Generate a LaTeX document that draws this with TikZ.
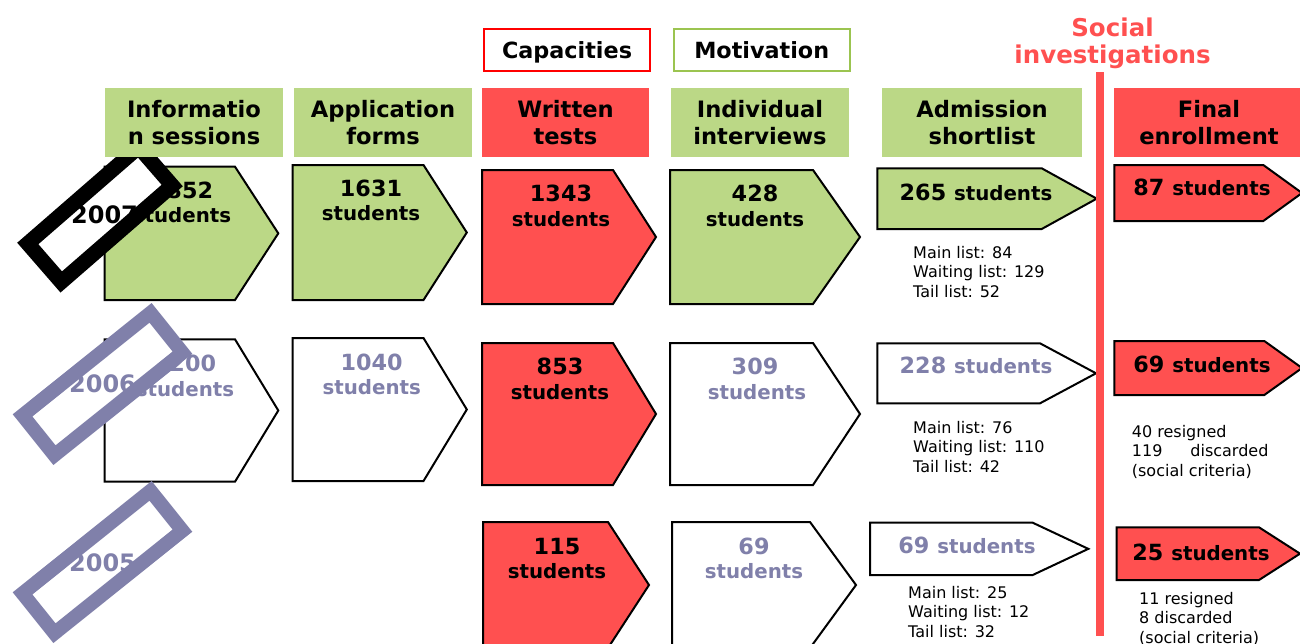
\documentclass[tikz,border=0pt]{standalone}
\usepackage{fontspec}
\setmainfont{DejaVu Sans}
\definecolor{grn}{RGB}{187,216,134}
\definecolor{rd}{RGB}{255,80,80}
\definecolor{prp}{RGB}{128,128,170}
\definecolor{grnline}{RGB}{155,196,80}
\definecolor{capred}{RGB}{255,0,0}
\newcommand{\myPent}[6]{\filldraw[pent,fill=#6] (#1,#2) -- (#3,#2) -- (#4,{(#2+#5)/2}) -- (#3,#5) -- (#1,#5) -- cycle;}
\tikzset{
  pent/.style={draw=black, line width=2pt, line join=miter},
  hdr/.style={inner sep=0pt, align=center, font=\bfseries\fontsize{22.6}{26.5}\selectfont, minimum height=69pt},
  numtxt/.style={anchor=base, inner sep=0pt, font=\bfseries\fontsize{22.3}{26}\selectfont},
  stutxt/.style={anchor=base, inner sep=0pt, font=\bfseries\fontsize{19.8}{24}\selectfont},
  onetxt/.style={anchor=base, inner sep=0pt, font=\bfseries\fontsize{22.3}{26}\selectfont},
  sub/.style={anchor=north west, inner sep=0pt, align=left, font=\fontsize{16}{19.5}\selectfont},
  yearbox/.style={draw, fill=white, inner sep=0pt},
  yeartxt/.style={anchor=base, inner sep=0pt, font=\bfseries\fontsize{24}{28}\selectfont},
  crit/.style={line width=2pt, fill=white, inner sep=0pt, minimum height=42pt, text height=16pt, text depth=0pt, font=\bfseries\fontsize{22.3}{26}\selectfont}
}
\newcommand{\stu}{\fontsize{19.8}{24}\selectfont students}
\begin{document}
\begin{tikzpicture}[x=1pt,y=-1pt]
\useasboundingbox (0,0) rectangle (1300,643);
\clip (0,0) rectangle (1300,643);

% ---------- 2007 row ----------
\myPent{104.5}{166.7}{235}{278.3}{300}{grn}
\node[numtxt] (n07a) at (182,198) {1852};
\node[stutxt] (s07a) at (182,222) {students};
\node[yearbox, line width=15pt, minimum width=147pt, minimum height=51pt, rotate=41] (b07) at (100,214.5) {};
\node[yeartxt] (y07) at (104.5,223) {2007};

\myPent{292.6}{165}{423.5}{466.8}{300}{grn}
\node[numtxt] (n07b) at (371,196) {1631};
\node[stutxt] (s07b) at (371,220) {students};
\myPent{482}{170}{613}{656}{304}{rd}
\node[numtxt] (n07c) at (561,201) {1343};
\node[stutxt] (s07c) at (561,226) {students};
\myPent{670}{170}{813}{860}{304}{grn}
\node[numtxt] (n07d) at (755,201) {428};
\node[stutxt] (s07d) at (755,226) {students};
\myPent{877.3}{168.3}{1041.7}{1096.7}{229}{grn}
\node[onetxt] (t07e) at (976,200) {265 \stu};
\myPent{1114.3}{165}{1263.3}{1302}{221}{rd}
\node[onetxt] (t07f) at (1202,195) {87 \stu};
\node[sub] (l07e) at (913,246) {Main list: 84\\Waiting list: 129\\Tail list: 52};

% ---------- 2006 row ----------
\myPent{104.5}{339.3}{235}{278.3}{481.7}{white}
\node[numtxt, text=prp] (n06a) at (185,371) {1200};
\node[stutxt, text=prp] (s06a) at (185,396) {students};
\node[yearbox, draw=prp, line width=14pt, minimum width=164pt, minimum height=51pt, rotate=38.7] (b06) at (102.5,384) {};
\node[yeartxt, text=prp] (y06) at (102.5,392) {2006};

\myPent{292.6}{338}{423.5}{466.8}{481}{white}
\node[numtxt, text=prp] (n06b) at (371.7,370) {1040};
\node[stutxt, text=prp] (s06b) at (371.7,394) {students};
\myPent{482}{343}{613}{656}{485}{rd}
\node[numtxt] (n06c) at (560,374) {853};
\node[stutxt] (s06c) at (560,399) {students};
\myPent{670}{343}{813}{860}{485}{white}
\node[numtxt, text=prp] (n06d) at (755,374) {309};
\node[stutxt, text=prp] (s06d) at (757,399) {students};
\myPent{877.3}{343.3}{1040}{1096}{403.3}{white}
\node[onetxt, text=prp] (t06e) at (976,373) {228 \stu};
\myPent{1114.3}{341}{1264.3}{1302}{395}{rd}
\node[onetxt] (t06f) at (1202,372) {69 \stu};
\node[sub] (l06e) at (913,421) {Main list: 76\\Waiting list: 110\\Tail list: 42};
\node[sub] (l06f) at (1131.7,425) {40 resigned\\\makebox[136.5pt][s]{119 discarded}\\(social criteria)};

% ---------- 2005 row ----------
\node[yearbox, draw=prp, line width=14pt, minimum width=164pt, minimum height=51pt, rotate=38.7] (b05) at (102.5,562) {};
\node[yeartxt, text=prp] (y05) at (102.5,571) {2005};
\myPent{483}{522}{608}{649}{648}{rd}
\node[numtxt] (n05c) at (557,554) {115};
\node[stutxt] (s05c) at (557,578) {students};
\myPent{672}{522}{810}{856}{648}{white}
\node[numtxt, text=prp] (n05d) at (754,554) {69};
\node[stutxt, text=prp] (s05d) at (754,578) {students};
\myPent{870}{522.7}{1032.7}{1088.3}{575}{white}
\node[onetxt, text=prp] (t05e) at (967,553) {69 \stu};
\myPent{1116.7}{527.3}{1259}{1300}{580}{rd}
\node[onetxt] (t05f) at (1201,560) {25 \stu};
\node[sub] (l05e) at (908,586) {Main list: 25\\Waiting list: 12\\Tail list: 32};
\node[sub] (l05f) at (1139,592) {11 resigned\\8 discarded\\(social criteria)};

% ---------- headers ----------
\node[hdr, fill=grn, minimum width=178pt] (h1) at (194,122.5) {Informatio\\n sessions};
\node[hdr, fill=grn, minimum width=178pt] (h2) at (383,122.5) {Application\\forms};
\node[hdr, fill=rd, minimum width=167pt] (h3) at (565.5,122.5) {Written\\tests};
\node[hdr, fill=grn, minimum width=178pt] (h4) at (760,122.5) {Individual\\interviews};
\node[hdr, fill=grn, minimum width=200pt] (h5) at (982,122.5) {Admission\\shortlist};
\node[hdr, fill=rd, minimum width=190pt] (h6) at (1209,122.5) {Final\\enrollment};

\node[crit, draw=capred, minimum width=166pt] (cap) at (567,50) {Capacities};
\node[crit, draw=grnline, minimum width=176pt] (mot) at (761.7,50) {Motivation};

\node[anchor=north, align=center, inner sep=0pt, text=rd, font=\bfseries\fontsize{24.5}{27.3}\selectfont] (soc) at (1112.5,17.4) {Social\\investigations};
\coordinate (lt) at (1100,72);
\coordinate (lb) at (1100,636);
\draw[line width=8pt, rd] (lt) -- (lb);
\end{tikzpicture}
\end{document}
